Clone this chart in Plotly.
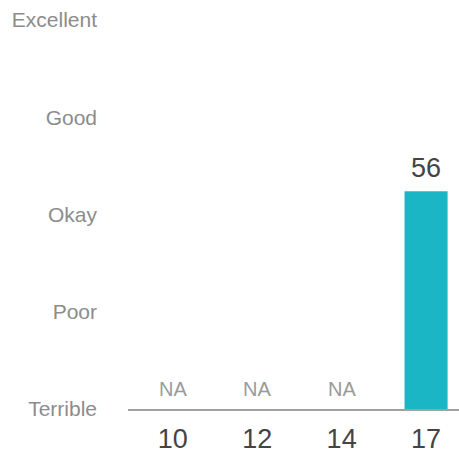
import plotly.graph_objects as go

# Ratings per age group; None means no data
ages = ["10", "12", "14", "17"]
scores = [None, None, None, 56]

# Rating scale shown on the y axis
rating_labels = ["Terrible", "Poor", "Okay", "Good", "Excellent"]
rating_values = [0, 25, 50, 75, 100]

FONT = "Liberation Sans, Arial, sans-serif"
BAR_COLOR = "#1bb6c6"

fig = go.Figure()
fig.add_trace(go.Bar(
    x=ages,
    y=scores,
    width=0.51,
    marker=dict(color=BAR_COLOR, line=dict(width=0)),
    hoverinfo="skip",
))

# Value labels above each group (index positions on the category axis)
annotations = []
for i, score in enumerate(scores):
    if score is None:
        annotations.append(dict(
            x=i, y=0, text="NA", showarrow=False,
            xanchor="center", yanchor="bottom", yshift=7,
            font=dict(family=FONT, size=20, color="#9a9a9a"),
        ))
    else:
        annotations.append(dict(
            x=i, y=score, text=str(score), showarrow=False,
            xanchor="center", yanchor="bottom", yshift=6,
            font=dict(family=FONT, size=27, color="#444444"),
        ))

fig.update_layout(
    width=459, height=452,
    margin=dict(l=128, r=0, t=20, b=43),
    paper_bgcolor="white", plot_bgcolor="white",
    showlegend=False,
    annotations=annotations,
    font=dict(family=FONT),
)
fig.update_xaxes(
    type="category",
    range=[-0.53, 3.39],
    automargin=False,
    showgrid=False, zeroline=False,
    showline=True, linecolor="#a0a0a0", linewidth=1.5,
    ticks="", ticklabelstandoff=5,
    tickfont=dict(family=FONT, size=27, color="#444444"),
)
fig.update_yaxes(
    range=[0, 100],
    automargin=False,
    tickvals=rating_values, ticktext=rating_labels,
    showgrid=False, zeroline=False, showline=False,
    ticks="", ticklabelstandoff=30,
    tickfont=dict(family=FONT, size=21, color="#8c8c8c"),
)

fig.write_html("out.html")
